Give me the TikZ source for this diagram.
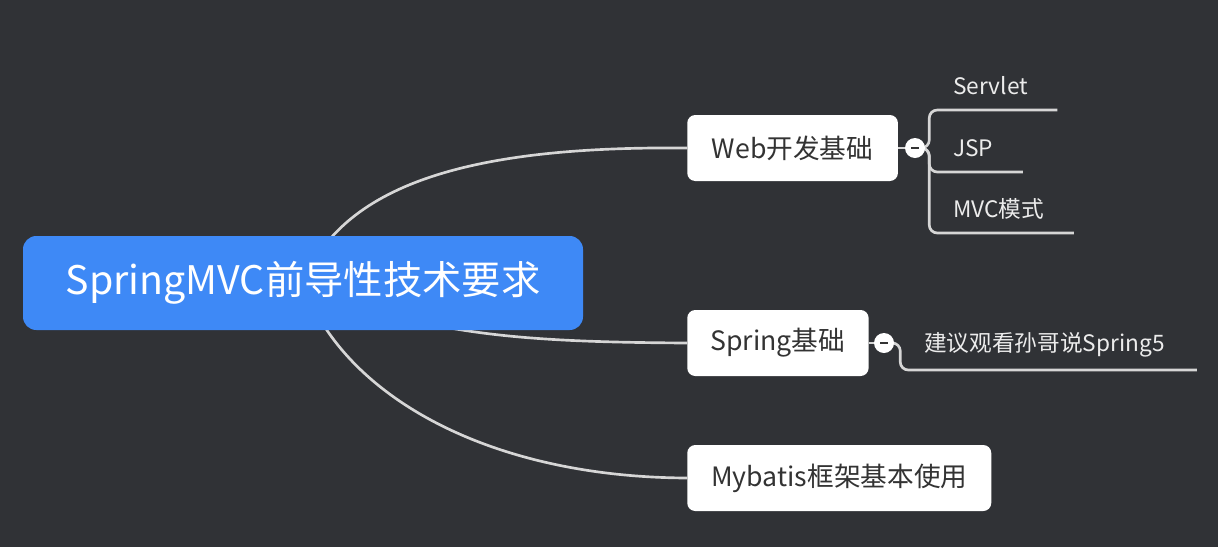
\documentclass[tikz,border=0pt]{standalone}
\usepackage{fontspec}
\setmainfont{Noto Sans CJK SC}
\usetikzlibrary{backgrounds}

\definecolor{bgdark}{RGB}{48,50,54}
\definecolor{rootblue}{RGB}{62,137,246}
\definecolor{linkgray}{RGB}{214,214,214}
\definecolor{boxtext}{RGB}{51,51,51}
\definecolor{leafwhite}{RGB}{236,236,236}

\begin{document}
\begin{tikzpicture}[x=0.75pt, y=-0.75pt,
    link/.style={draw=linkgray, line width=2pt},
    root/.style={fill=rootblue, text=white, rounded corners=10pt,
      minimum width=420pt, minimum height=70.5pt, font=\fontsize{29.5}{35}\selectfont},
    topic/.style={anchor=west, fill=white, text=boxtext, rounded corners=6pt,
      minimum height=49.5pt, font=\fontsize{20}{24}\selectfont},
    fold/.style={circle, fill=white, text=boxtext, minimum size=15pt, inner sep=0pt},
    leaf/.style={anchor=south west, inner sep=0pt, minimum height=36pt,
      text=leafwhite, font=\fontsize{17}{20}\selectfont}
  ]

  \useasboundingbox (0,0) rectangle (1218,547);

  % Central topic
  \node[root] (root) at (303,283) {SpringMVC前导性技术要求};

  % Main branches
  \node[topic, minimum width=158pt] (web) at (687,148) {Web开发基础};
  \node[topic, minimum width=136pt] (spring) at (687,343) {Spring基础};
  \node[topic, minimum width=228pt] (mybatis) at (687,478) {Mybatis框架基本使用};

  % Fold buttons
  \node[fold] (wfold) at (915,148) {\rule[-0.75pt]{6pt}{1.5pt}};
  \node[fold] (sfold) at (884,343) {\rule[-0.75pt]{6pt}{1.5pt}};

  % Sub topics
  \node[leaf] (svl) at (929,110) {\hspace*{18pt}Servlet\hspace*{22pt}};
  \node[leaf] (jsp) at (929,172) {\hspace*{18pt}JSP\hspace*{22pt}};
  \node[leaf] (mvc) at (929,233) {\hspace*{18pt}MVC模式\hspace*{22pt}};
  \node[leaf, minimum height=37.5pt] (tip) at (900,370) {\hspace*{18pt}建议观看孙哥说Spring5\hspace*{24pt}};

  \begin{pgfonlayer}{background}
    \fill[bgdark] (0,0) rectangle (1218,547);
    % Curved branches from the centre
    \draw[link] (root.center) .. controls (345,180) and (480,146) .. (web.west);
    \draw[link] (root.center) .. controls (420,335) and (520,342) .. (spring.west);
    \draw[link] (root.center) .. controls (340,390) and (480,477) .. (mybatis.west);
    % Folds and leaves
    \draw[link] (web) -- (wfold);
    \draw[link] (spring) -- (sfold);
    \foreach \leafname in {svl,jsp,mvc}
      \draw[link, rounded corners=6pt] (wfold.east) -- ++(4,0) |- (\leafname.south east);
    \draw[link, rounded corners=6pt] (sfold.east) -- ++(6,0) |- (tip.south east);
  \end{pgfonlayer}

\end{tikzpicture}
\end{document}
